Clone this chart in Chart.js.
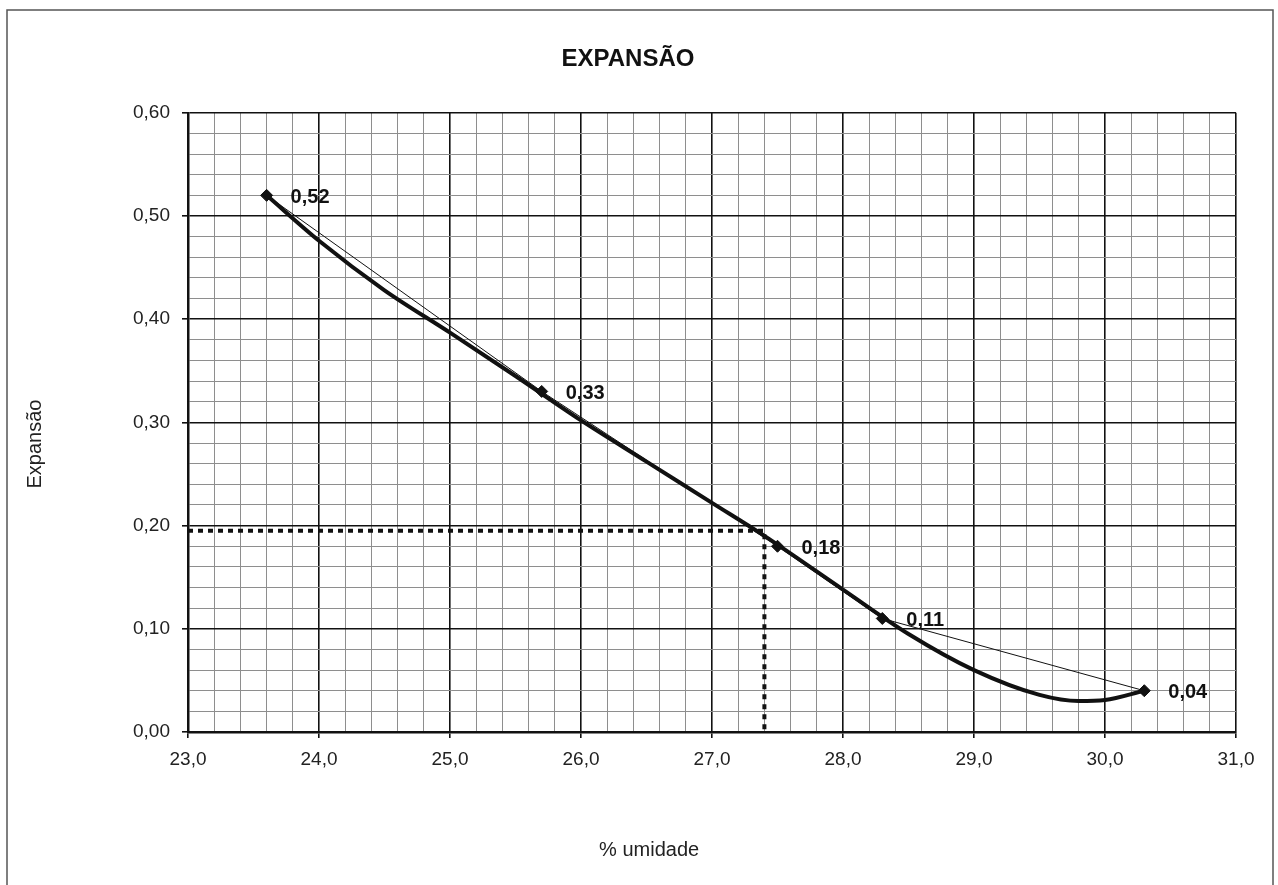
<!DOCTYPE html>
<html lang="pt">
<head>
    <meta charset="UTF-8">
    <title>Expansão</title>
    <script src="https://cdn.jsdelivr.net/npm/chart.js"></script>
    <style>
        body {
            margin: 0;
            background-color: #ffffff;
        }

        #chartBox {
            width: 1278px;
            height: 885px;
        }
    </style>
</head>
<body>
<div id="chartBox">
    <canvas id="expChart" width="1278" height="885"></canvas>
</div>

<script>
    // ensaio: umidade x expansao
    const umidade = [23.6, 25.7, 27.5, 28.3, 30.3];
    const expansao = [0.52, 0.33, 0.18, 0.11, 0.04];
    const rotulos = ['0,52', '0,33', '0,18', '0,11', '0,04'];

    // linha de tendencia
    const tendX = [23.6, 24.0, 24.5, 25.0, 25.5, 26.0, 26.5, 27.0, 27.4, 28.0, 28.5, 29.0, 29.5, 29.8, 30.0, 30.3];
    const tendY = [0.520, 0.476, 0.428, 0.387, 0.345, 0.302, 0.262, 0.222, 0.190, 0.138, 0.095, 0.060, 0.036, 0.030, 0.031, 0.040];

    // linhas pontilhadas de leitura
    const leituraX = [23.0, 27.4, 27.4];
    const leituraY = [0.195, 0.195, 0.0];

    const tituloX = '% umidade';
    const tituloY = 'Expansão';

    const FONT = "'Liberation Sans', Arial, sans-serif";

    const toPts = (xs, ys) => xs.map((x, i) => ({x: x, y: ys[i]}));

    const isMajorX = v => Math.abs(v - Math.round(v)) < 1e-6;
    const isMajorY = v => Math.abs(v * 10 - Math.round(v * 10)) < 1e-6;

    const frame = {
        id: 'frame',
        beforeDraw(chart) {
            const ctx = chart.ctx;
            ctx.save();
            ctx.fillStyle = '#fff';
            ctx.fillRect(0, 0, chart.width, chart.height);
            ctx.strokeStyle = '#555';
            ctx.lineWidth = 1.5;
            ctx.strokeRect(7, 10, 1266, 900);
            ctx.restore();
        }
    };

    // titulos dos eixos, um pouco fora do centro como no original
    const axisTitles = {
        id: 'axisTitles',
        afterDraw(chart) {
            const a = chart.chartArea;
            const ctx = chart.ctx;
            ctx.save();
            ctx.font = '20px ' + FONT;
            ctx.fillStyle = '#222';
            ctx.textAlign = 'center';
            ctx.textBaseline = 'middle';
            ctx.fillText(tituloX, a.left + (a.right - a.left) * 0.44, a.bottom + 118);
            ctx.translate(35, a.top + (a.bottom - a.top) * 0.535);
            ctx.rotate(-Math.PI / 2);
            ctx.fillText(tituloY, 0, 0);
            ctx.restore();
        }
    };

    const pointLabels = {
        id: 'pointLabels',
        afterDatasetsDraw(chart) {
            const ctx = chart.ctx;
            const meta = chart.getDatasetMeta(1);
            ctx.save();
            ctx.font = 'bold 20px ' + FONT;
            ctx.fillStyle = '#111';
            ctx.textBaseline = 'middle';
            meta.data.forEach((pt, i) => {
                ctx.fillText(rotulos[i], pt.x + 24, pt.y + 2);
            });
            ctx.restore();
        }
    };

    new Chart(document.getElementById('expChart'), {
        type: 'scatter',
        data: {
            datasets: [{
                label: 'Tendência',
                data: toPts(tendX, tendY),
                showLine: true,
                borderColor: '#111',
                borderWidth: 4,
                pointRadius: 0,
                cubicInterpolationMode: 'monotone',
                order: 2
            }, {
                label: 'Expansão',
                data: toPts(umidade, expansao),
                showLine: true,
                borderColor: '#111',
                borderWidth: 1,
                pointStyle: 'rectRot',
                pointRadius: 6,
                backgroundColor: '#111',
                pointBorderColor: '#111',
                order: 1
            }, {
                label: 'Leitura',
                data: toPts(leituraX, leituraY),
                showLine: true,
                borderColor: '#111',
                borderWidth: 4,
                borderDash: [5, 5],
                pointRadius: 0,
                order: 3
            }]
        },
        options: {
            responsive: false,
            animation: false,
            layout: {
                padding: {left: 20, right: 42, top: 0, bottom: 20}
            },
            plugins: {
                legend: {display: false},
                tooltip: {enabled: false},
                title: {
                    display: true,
                    text: 'EXPANSÃO',
                    color: '#111',
                    font: {family: FONT, size: 24, weight: 'bold'},
                    padding: {top: 45, bottom: 39}
                }
            },
            scales: {
                x: {
                    type: 'linear',
                    min: 23,
                    max: 31,
                    afterFit: s => { s.height = 133; },
                    ticks: {
                        stepSize: 0.2,
                        autoSkip: false,
                        maxRotation: 0,
                        padding: 10,
                        color: '#222',
                        font: {family: FONT, size: 19},
                        callback: v => isMajorX(v) ? v.toFixed(1).replace('.', ',') : ''
                    },
                    grid: {
                        color: c => isMajorX(c.tick.value) ? '#111' : '#8e8e8e',
                        lineWidth: c => isMajorX(c.tick.value) ? 1.6 : 1,
                        tickColor: c => isMajorX(c.tick.value) ? '#111' : 'rgba(0,0,0,0)',
                        tickLength: 6
                    },
                    border: {color: '#111', width: 2.5}
                },
                y: {
                    min: 0,
                    max: 0.6,
                    afterFit: s => { s.width = 168; },
                    ticks: {
                        stepSize: 0.02,
                        autoSkip: false,
                        padding: 12,
                        color: '#222',
                        font: {family: FONT, size: 19},
                        callback: v => isMajorY(v) ? v.toFixed(2).replace('.', ',') : ''
                    },
                    grid: {
                        color: c => isMajorY(c.tick.value) ? '#111' : '#8e8e8e',
                        lineWidth: c => isMajorY(c.tick.value) ? 1.6 : 1,
                        tickColor: c => isMajorY(c.tick.value) ? '#111' : 'rgba(0,0,0,0)',
                        tickLength: 6
                    },
                    border: {color: '#111', width: 2.5}
                }
            }
        },
        plugins: [frame, pointLabels, axisTitles]
    });
</script>
</body>
</html>
